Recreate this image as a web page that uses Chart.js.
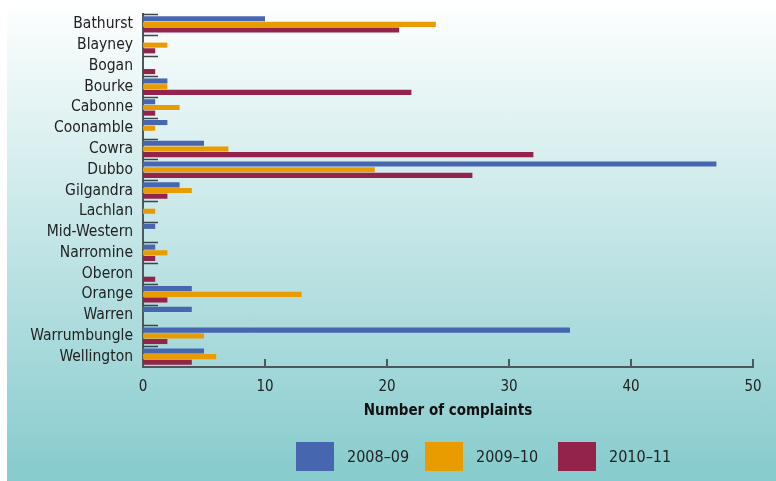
<!DOCTYPE html>
<html>
<head>
<meta charset="utf-8">
<script src="https://cdn.jsdelivr.net/npm/chart.js@4.4.0/dist/chart.umd.min.js"></script>
<style>
  body { margin: 0; background: #fff; font-family: 'DejaVu Sans Condensed', 'DejaVu Sans', sans-serif; }
  #wrap { position: absolute; left: 7px; top: 0; width: 769px; height: 481px; background: linear-gradient(#ffffff, #86cbcd); }
  #chart { position: absolute; left: 0; top: 0; }
  .key { position: absolute; top: 442px; width: 38px; height: 29px; }
  .key-label { position: absolute; top: 447px; font-size: 16px; color: #222; line-height: 20px; }
</style>
</head>
<body>
<div id="wrap">
  <canvas id="chart" width="769" height="481"></canvas>
</div>
<div id="legend"></div>
<script>
// complaints by council area
const councils = ['Bathurst', 'Blayney', 'Bogan', 'Bourke', 'Cabonne', 'Coonamble', 'Cowra', 'Dubbo', 'Gilgandra',
  'Lachlan', 'Mid-Western', 'Narromine', 'Oberon', 'Orange', 'Warren', 'Warrumbungle', 'Wellington'];
const years = ['2008–09', '2009–10', '2010–11'];
const complaints0809 = [10, 0, 0, 2, 1, 2, 5, 47, 3, 0, 1, 1, 0, 4, 4, 35, 5];
const complaints0910 = [24, 2, 0, 2, 3, 1, 7, 19, 4, 1, 0, 2, 0, 13, 0, 5, 6];
const complaints1011 = [21, 1, 1, 22, 1, 0, 32, 27, 2, 0, 0, 1, 1, 2, 0, 2, 4];
const xTicks = [0, 10, 20, 30, 40, 50];

const colours = ['#4666af', '#e89c00', '#93234b'];
const FONT = "'DejaVu Sans Condensed', 'DejaVu Sans', sans-serif";
const axisCol = '#4b585c';

// short tick marks drawn inside the plot
const innerTicks = {
  id: 'innerTicks',
  afterDraw(chart) {
    const { ctx, scales: { x, y } } = chart;
    ctx.save();
    ctx.strokeStyle = '#3a4548';
    ctx.lineWidth = 1.5;
    for (let i = 0; i < councils.length; i++) {
      const py = Math.round(y.getPixelForValue(i - 0.5)) + 0.5;
      ctx.beginPath();
      ctx.moveTo(x.left, py);
      ctx.lineTo(x.left + 15, py);
      ctx.stroke();
    }
    ctx.strokeStyle = axisCol;
    ctx.lineWidth = 2;
    xTicks.slice(1).forEach(v => {
      const px = Math.round(x.getPixelForValue(v));
      ctx.beginPath();
      ctx.moveTo(px, y.bottom);
      ctx.lineTo(px, y.bottom - 8);
      ctx.stroke();
    });
    ctx.restore();
  }
};

const series = [complaints0809, complaints0910, complaints1011];

new Chart(document.getElementById('chart'), {
  type: 'bar',
  data: {
    labels: councils,
    datasets: series.map((d, i) => ({
      label: years[i],
      data: d,
      backgroundColor: colours[i],
      borderWidth: 0,
      categoryPercentage: 0.82,
      barPercentage: 0.9
    }))
  },
  options: {
    indexAxis: 'y',
    responsive: false,
    animation: false,
    layout: { padding: { top: 14, right: 23, bottom: 0, left: 0 } },
    plugins: { legend: { display: false }, tooltip: { enabled: false } },
    scales: {
      x: {
        min: 0, max: 50,
        afterBuildTicks: s => { s.ticks = xTicks.map(v => ({ value: v })); },
        afterFit: s => { s.height = 114; },
        grid: { display: false },
        border: { display: true, color: axisCol, width: 2 },
        ticks: { color: '#222', font: { family: FONT, size: 15 }, padding: 3 },
        title: {
          display: true, text: 'Number of complaints', color: '#111',
          font: { family: FONT, size: 15, weight: 'bold' },
          padding: { top: 4, bottom: 61 }
        }
      },
      y: {
        afterFit: s => { s.width = 136; },
        grid: { display: false },
        border: { display: true, color: axisCol, width: 2 },
        ticks: { color: '#222', font: { family: FONT, size: 15.5 }, padding: 2, autoSkip: false }
      }
    }
  },
  plugins: [innerTicks]
});

// legend below the chart
const legend = document.getElementById('legend');
const keyX = [296, 425, 558];
years.forEach((yr, i) => {
  const box = document.createElement('div');
  box.className = 'key';
  box.style.left = keyX[i] + 'px';
  box.style.background = colours[i];
  legend.appendChild(box);
  const lab = document.createElement('div');
  lab.className = 'key-label';
  lab.style.left = (keyX[i] + 51) + 'px';
  lab.textContent = yr;
  legend.appendChild(lab);
});
</script>
</body>
</html>
